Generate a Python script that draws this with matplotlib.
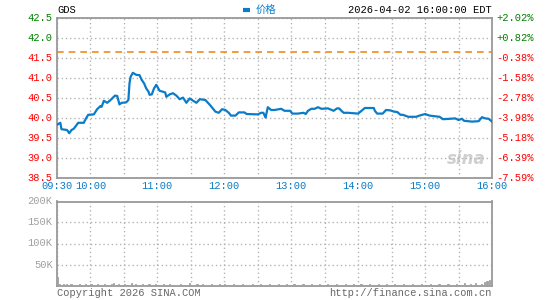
import matplotlib.pyplot as plt
from matplotlib.lines import Line2D
from matplotlib.ticker import MultipleLocator

# price trace, minutes after 09:30
minutes = [0, 3, 4, 9, 11, 13, 15, 19, 24, 26, 28, 33, 36, 39, 40, 42, 45, 48, 52, 54,
           56, 58, 62, 64, 65, 66, 68, 71, 74, 76, 78, 80, 82, 83, 85, 87, 89, 91, 92, 97,
           98, 101, 104, 107, 110, 113, 116, 119, 121, 125, 128, 133, 137, 142, 145, 148, 151, 154, 156, 160,
           163, 168, 170, 180, 183, 185, 187, 189, 192, 195, 201, 204, 209, 211, 216, 221, 223, 225, 228, 231,
           234, 237, 243, 248, 251, 253, 255, 257, 261, 270, 273, 276, 284, 285, 287, 292, 295, 299, 302, 305,
           308, 310, 315, 322, 325, 330, 334, 343, 346, 352, 357, 360, 363, 365, 372, 378, 381, 384, 387, 390]
prices = [39.83, 39.88, 39.72, 39.70, 39.62, 39.70, 39.73, 39.88, 39.88, 39.99, 40.08, 40.09, 40.22, 40.30, 40.28, 40.43, 40.38, 40.45, 40.56, 40.55,
          40.34, 40.38, 40.39, 40.45, 40.87, 41.03, 41.13, 41.08, 41.07, 40.95, 40.87, 40.74, 40.66, 40.58, 40.59, 40.74, 40.83, 40.73, 40.68, 40.64,
          40.53, 40.59, 40.62, 40.56, 40.47, 40.51, 40.38, 40.49, 40.45, 40.38, 40.47, 40.45, 40.33, 40.16, 40.13, 40.22, 40.20, 40.13, 40.06, 40.06,
          40.14, 40.14, 40.10, 40.09, 40.13, 40.13, 40.01, 40.27, 40.20, 40.20, 40.23, 40.18, 40.18, 40.11, 40.11, 40.13, 40.10, 40.18, 40.23, 40.23,
          40.27, 40.23, 40.24, 40.18, 40.24, 40.24, 40.18, 40.13, 40.13, 40.11, 40.18, 40.25, 40.25, 40.18, 40.11, 40.11, 40.20, 40.19, 40.16, 40.15,
          40.08, 40.08, 40.03, 40.03, 40.06, 40.10, 40.06, 40.03, 39.97, 39.98, 39.99, 39.95, 39.98, 39.93, 39.91, 39.92, 40.02, 39.99, 39.98, 39.91]

# volume bars (minute, shares)
vol_minutes = [0, 2, 5, 8, 12, 16, 20, 25, 30, 36, 42, 48, 50, 55, 60, 66, 70, 76, 82, 88,
               95, 100, 110, 118, 125, 130, 138, 145, 150, 158, 166, 175, 182, 190, 198, 205, 212, 220, 228, 235,
               242, 250, 258, 265, 272, 280, 288, 295, 302, 310, 318, 326, 334, 342, 350, 358, 365, 370, 375, 380,
               383, 385, 387, 389]
volumes = [21000, 3000, 2500, 3000, 2500, 2000, 3000, 2500, 3500, 4000, 3000, 3500, 5000, 4000, 3000, 5000, 3500, 3000, 2500, 3000,
           2500, 3000, 2500, 5000, 3000, 2500, 3000, 2500, 3000, 2500, 4000, 2500, 3000, 2500, 3000, 2500, 3000, 2500, 3000, 2500,
           3000, 2500, 3000, 2500, 3000, 4000, 2500, 3000, 2500, 3000, 2500, 3000, 2500, 3000, 2500, 3000, 7000, 3000, 6000, 4000,
           9000, 11000, 12000, 21000]

prev_close = 41.66
price_ticks = [38.5, 39.0, 39.5, 40.0, 40.5, 41.0, 41.5, 42.0, 42.5]
price_labels = ['38.5', '39.0', '39.5', '40.0', '40.5', '41.0', '41.5', '42.0', '42.5']
pct_labels = ['-7.59%', '-6.39%', '-5.18%', '-3.98%', '-2.78%', '-1.58%', '-0.38%', '+0.82%', '+2.02%']
time_ticks = [0, 30, 90, 150, 210, 270, 330, 390]
time_labels = ['09:30', '10:00', '11:00', '12:00', '13:00', '14:00', '15:00', '16:00']
vol_ticks = [50000, 100000, 150000, 200000]
vol_labels = ['50K', '100K', '150K', '200K']

W, H = 545, 300
MONO = 'Liberation Mono'
BLUE = '#0a7cc8'
GRID = '#b4b4b4'
FRAME = '#999999'
GREEN = '#008000'
RED = '#ff0000'

fig = plt.figure(figsize=(W / 100, H / 100), dpi=100)
fig.patch.set_facecolor('white')


def px_axes(left, top, right, bottom):
    return fig.add_axes([left / W, 1 - bottom / H, (right - left) / W, (bottom - top) / H])


def style(ax):
    ax.set_xlim(0, 390)
    ax.xaxis.set_major_locator(MultipleLocator(30))
    ax.grid(True, color=GRID, linestyle=(0, (1, 2)), linewidth=1)
    ax.tick_params(length=0, labelbottom=False, labelleft=False)
    for s in ax.spines.values():
        s.set_color(FRAME)
        s.set_linewidth(1.3)


# price panel
ax = px_axes(57, 18, 492, 178)
style(ax)
ax.set_ylim(38.5, 42.5)
ax.set_yticks(price_ticks)
ax.plot(minutes, prices, color=BLUE, linewidth=1.6, zorder=3)
ax.axhline(prev_close, color='#f08c1e', linestyle=(0, (4, 3)), linewidth=1.2, zorder=2)

for p, lab, pct in zip(price_ticks, price_labels, pct_labels):
    c = GREEN if p > prev_close else RED
    ax.text(-0.01, p, lab, transform=ax.get_yaxis_transform(), ha='right', va='center',
            fontsize=7.5, family=MONO, color=c)
    ax.text(1.01, p, pct, transform=ax.get_yaxis_transform(), ha='left', va='center',
            fontsize=7.5, family=MONO, color=c)

for t, lab in zip(time_ticks, time_labels):
    ax.text(t, -0.02, lab, transform=ax.get_xaxis_transform(), ha='center', va='top',
            fontsize=7.5, family=MONO, color=BLUE)

ax.text(0, 1.02, 'GDS', transform=ax.transAxes, ha='left', va='bottom', fontsize=7.5, family=MONO)
ax.text(1.0, 1.02, '2026-04-02 16:00:00 EDT', transform=ax.transAxes, ha='right', va='bottom',
        fontsize=7.5, family=MONO)
fig.add_artist(Line2D([243 / W, 250 / W], [1 - 10 / H, 1 - 10 / H], color=BLUE, linewidth=3,
                      solid_capstyle='butt'))
fig.text(256 / W, 1 - 10 / H, '价格', color=BLUE, fontsize=7.5, va='center', ha='left',
         family=['Noto Sans CJK SC', 'DejaVu Sans'])
ax.text(0.985, 0.06, 'sina', transform=ax.transAxes, ha='right', va='bottom', fontsize=12,
        fontweight='bold', style='italic', color='#d0d0d0', zorder=1)

# volume panel
vax = px_axes(57, 201.5, 492, 285.5)
style(vax)
vax.set_ylim(0, 200000)
vax.set_yticks(vol_ticks)
vax.bar(vol_minutes, volumes, width=1, color='#a0a0a0', edgecolor='#a0a0a0', linewidth=0.6,
        align='edge', zorder=3)
for v, lab in zip(vol_ticks, vol_labels):
    vax.text(-0.01, v, lab, transform=vax.get_yaxis_transform(), ha='right', va='center',
             fontsize=7.5, family=MONO, color='#a0a0a0')

fig.text(57 / W, 1 - 293 / H, 'Copyright 2026 SINA.COM', fontsize=7.5, family=MONO,
         color='#666666', ha='left', va='center')
fig.text(492 / W, 1 - 293 / H, 'http://finance.sina.com.cn', fontsize=7.5, family=MONO,
         color='#666666', ha='right', va='center')

fig.savefig('out.png', dpi=100)
